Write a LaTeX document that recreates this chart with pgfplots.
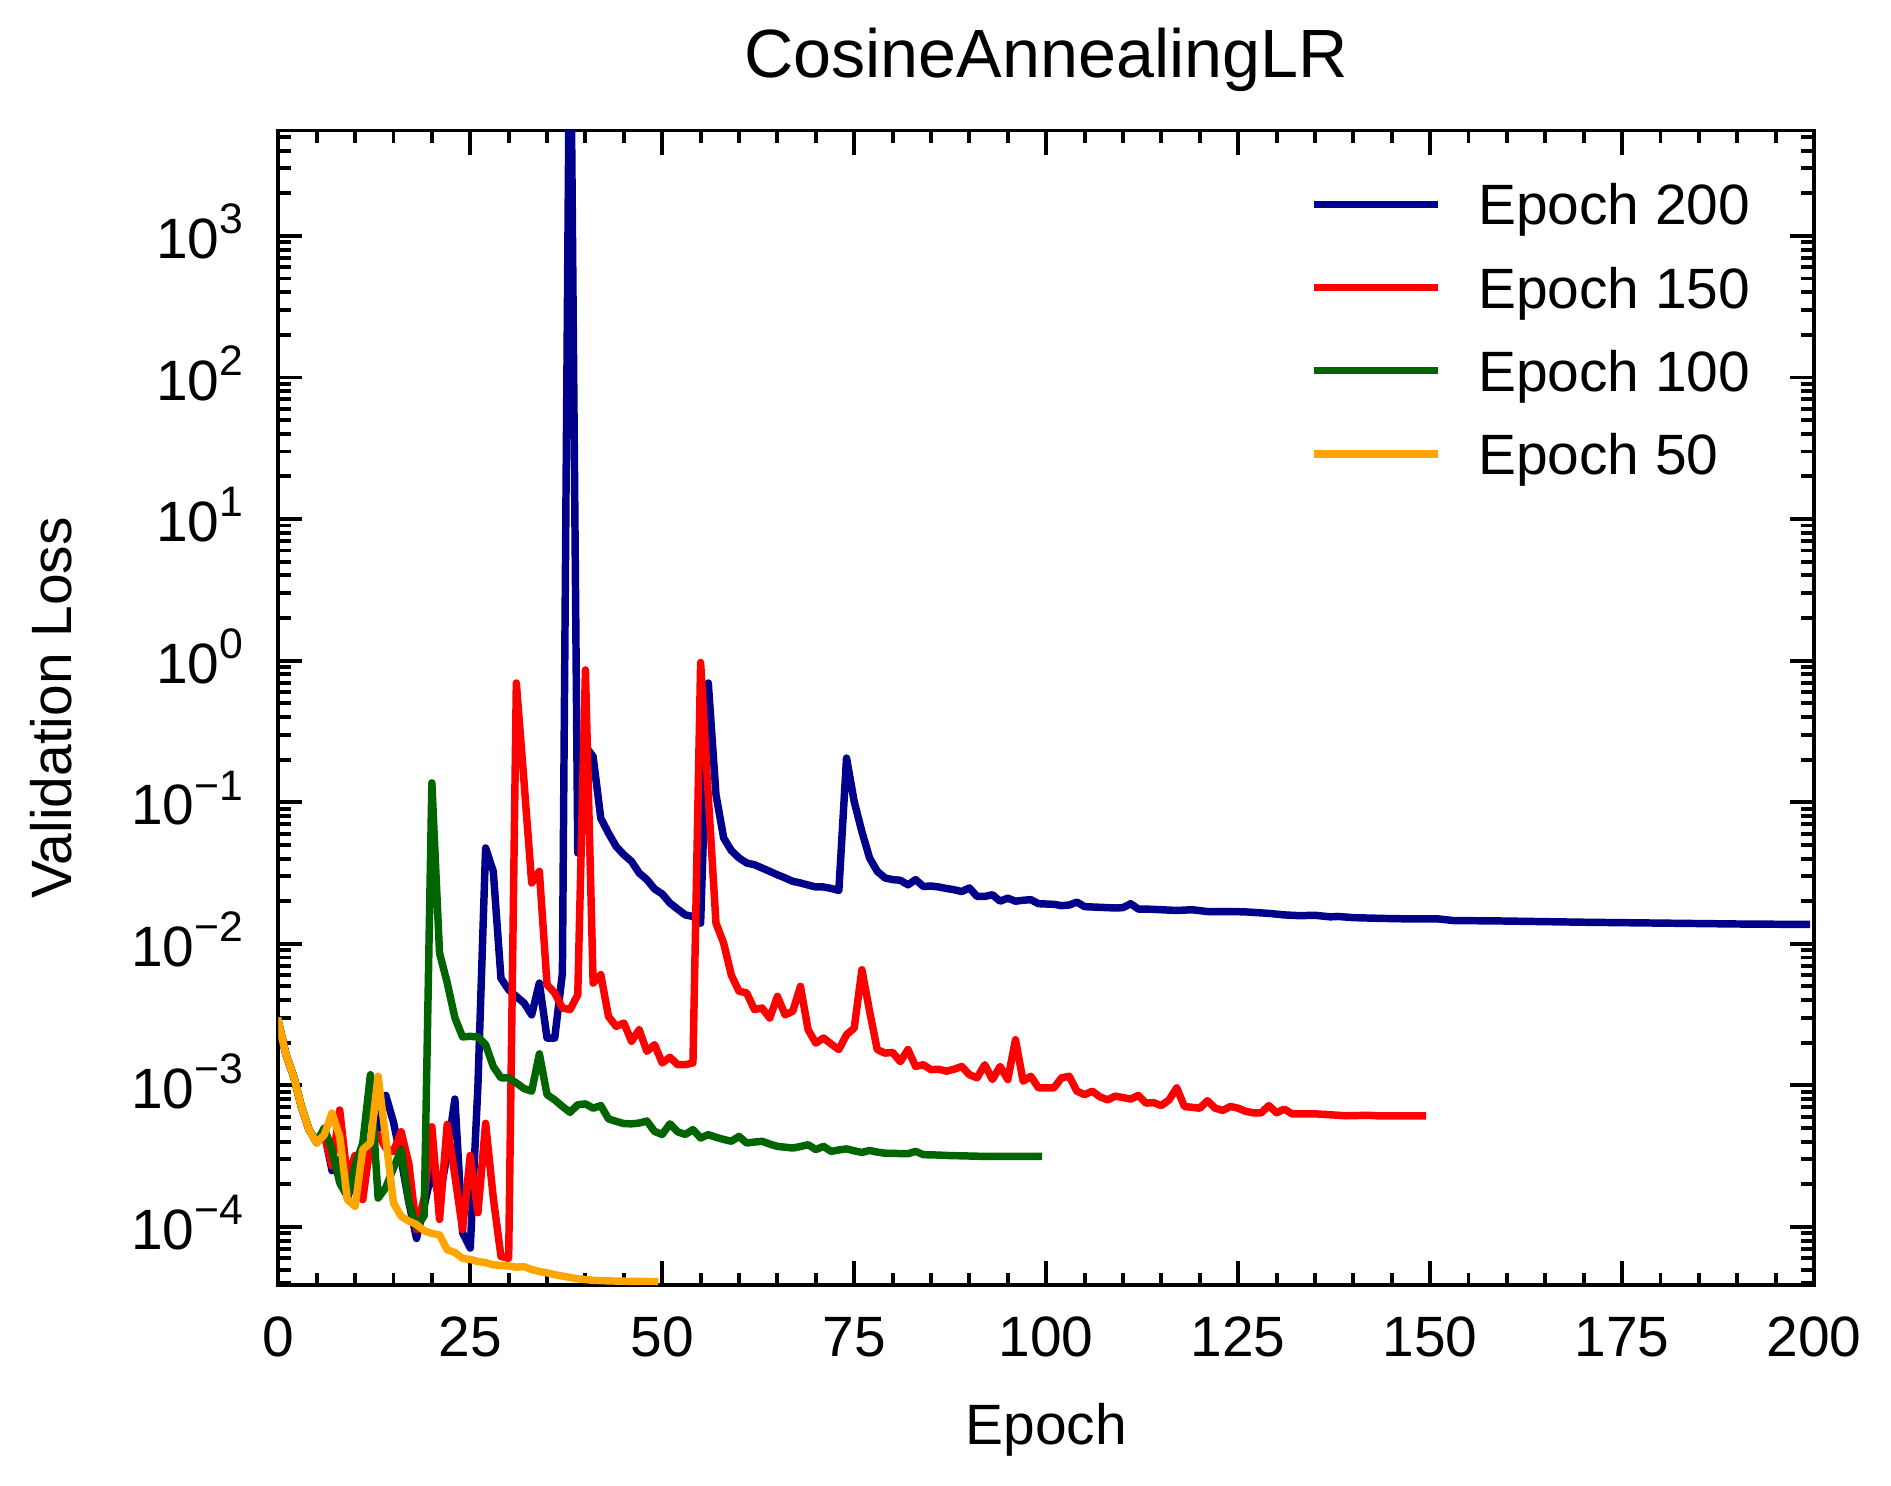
\documentclass[border=0pt]{standalone}
\usepackage{fontspec}
\setmainfont{Liberation Sans}
\usepackage{pgfplots}
\usepackage{pgfplotstable}
\pgfplotsset{compat=1.18}
\definecolor{cblue}{RGB}{0,0,139}
\definecolor{cred}{RGB}{255,0,0}
\definecolor{cgreen}{RGB}{0,100,0}
\definecolor{corange}{RGB}{255,165,0}
\newcommand{\sexp}[1]{\raisebox{3.5pt}{\fontsize{6}{6}\selectfont #1}}

\pgfplotstableread{
e v
0 2.83e-3
1 1.65e-3
2 1.16e-3
3 7.1e-4
4 4.87e-4
5 3.92e-4
6 4.6e-4
7 2.5e-4
8 3.0e-4
9 1.6e-4
10 2.3e-4
11 3.2e-4
12 4.0e-4
13 5.0e-4
14 8.5e-4
15 5.5e-4
16 3.0e-4
17 1.5e-4
18 8.3e-5
19 1.4e-4
20 2.5e-4
21 1.6e-4
22 3.3e-4
23 8.0e-4
24 9.1e-5
25 7.1e-5
26 1.0e-3
27 4.75e-2
28 3.25e-2
29 5.7e-3
30 4.74e-3
31 4.25e-3
32 3.82e-3
33 3.15e-3
34 5.28e-3
35 2.16e-3
36 2.16e-3
37 6.2e-3
38 1e5
39 4.38e-2
40 0.248
41 0.21
42 7.7e-2
43 6.05e-2
44 4.87e-2
45 4.26e-2
46 3.82e-2
47 3.16e-2
48 2.84e-2
49 2.44e-2
50 2.25e-2
51 1.94e-2
52 1.76e-2
53 1.6e-2
54 1.56e-2
55 1.4e-2
56 0.695
57 0.113
58 5.59e-2
59 4.55e-2
60 4.04e-2
61 3.72e-2
62 3.62e-2
63 3.43e-2
64 3.25e-2
65 3.07e-2
66 2.92e-2
67 2.76e-2
68 2.69e-2
69 2.6e-2
70 2.52e-2
71 2.52e-2
72 2.46e-2
73 2.38e-2
74 0.205
75 0.101
76 6.2e-2
77 4.04e-2
78 3.25e-2
79 2.92e-2
80 2.84e-2
81 2.81e-2
82 2.61e-2
83 2.84e-2
84 2.54e-2
85 2.56e-2
86 2.52e-2
87 2.46e-2
88 2.41e-2
89 2.34e-2
90 2.48e-2
91 2.16e-2
92 2.16e-2
93 2.22e-2
94 2.0e-2
95 2.1e-2
96 2.0e-2
97 2.03e-2
98 2.05e-2
99 1.92e-2
100 1.91e-2
101 1.9e-2
102 1.86e-2
103 1.88e-2
104 1.97e-2
105 1.83e-2
106 1.82e-2
107 1.81e-2
108 1.8e-2
109 1.79e-2
110 1.8e-2
111 1.92e-2
112 1.76e-2
113 1.76e-2
114 1.75e-2
115 1.74e-2
117 1.72e-2
119 1.74e-2
121 1.69e-2
124 1.69e-2
126 1.68e-2
129 1.64e-2
131 1.6e-2
133 1.58e-2
135 1.59e-2
137 1.55e-2
138 1.56e-2
140 1.53e-2
144 1.51e-2
147 1.5e-2
151 1.5e-2
153 1.46e-2
159 1.45e-2
170 1.42e-2
180 1.40e-2
190 1.38e-2
199 1.37e-2
}\tblue

\pgfplotstableread{
e v
0 2.83e-3
1 1.65e-3
2 1.16e-3
3 7.1e-4
4 4.87e-4
5 4.0e-4
6 4.5e-4
7 2.7e-4
8 6.7e-4
9 2.2e-4
10 3.2e-4
11 1.56e-4
12 3.9e-4
13 4.5e-4
14 3.6e-4
15 3.4e-4
16 4.7e-4
17 2.8e-4
18 9.6e-5
19 1.6e-4
20 5.1e-4
21 1.13e-4
22 5.3e-4
23 2.3e-4
24 9.6e-5
25 3.2e-4
26 1.26e-4
27 5.4e-4
28 1.6e-4
29 6.2e-5
30 6.0e-5
31 0.695
32 0.14
33 2.69e-2
34 3.25e-2
35 5.14e-3
36 4.5e-3
37 3.52e-3
38 3.43e-3
39 4.37e-3
40 0.86
41 5.28e-3
42 6.05e-3
43 3.07e-3
44 2.61e-3
45 2.76e-3
46 2.05e-3
47 2.47e-3
48 1.74e-3
49 1.94e-3
50 1.44e-3
51 1.58e-3
52 1.4e-3
53 1.4e-3
54 1.44e-3
55 0.97
56 0.11
57 1.4e-2
58 1.01e-2
59 6.0e-3
60 4.62e-3
61 4.5e-3
62 3.43e-3
63 3.52e-3
64 2.99e-3
65 4.25e-3
66 3.15e-3
67 3.34e-3
68 5.0e-3
69 2.47e-3
70 1.99e-3
71 2.16e-3
72 1.96e-3
73 1.79e-3
74 2.28e-3
75 2.54e-3
76 6.56e-3
77 3.34e-3
78 1.79e-3
79 1.69e-3
80 1.71e-3
81 1.47e-3
82 1.79e-3
83 1.36e-3
84 1.4e-3
85 1.29e-3
86 1.3e-3
87 1.26e-3
88 1.3e-3
89 1.36e-3
90 1.19e-3
91 1.13e-3
92 1.4e-3
93 1.1e-3
94 1.36e-3
95 1.1e-3
96 2.1e-3
97 1.07e-3
98 1.16e-3
99 9.6e-4
100 9.6e-4
101 9.6e-4
102 1.13e-3
103 1.16e-3
104 9.1e-4
105 8.6e-4
106 9.1e-4
107 8.3e-4
108 7.9e-4
109 8.4e-4
110 8.2e-4
111 8.0e-4
112 8.5e-4
113 7.5e-4
114 7.55e-4
115 7.2e-4
116 7.9e-4
117 9.6e-4
118 7.1e-4
119 7.0e-4
120 6.9e-4
121 7.8e-4
122 6.9e-4
123 6.66e-4
124 7.1e-4
125 6.9e-4
126 6.55e-4
127 6.4e-4
128 6.4e-4
129 7.2e-4
130 6.4e-4
131 6.8e-4
132 6.3e-4
133 6.3e-4
135 6.3e-4
137 6.2e-4
139 6.1e-4
142 6.15e-4
143 6.1e-4
149 6.1e-4
}\tred

\pgfplotstableread{
e v
0 2.83e-3
1 1.65e-3
2 1.16e-3
3 7.1e-4
4 4.87e-4
5 4.0e-4
6 5.0e-4
7 3.5e-4
8 2.05e-4
9 1.64e-4
10 2.7e-4
11 3.9e-4
12 1.19e-3
13 1.6e-4
14 1.9e-4
15 2.6e-4
16 3.5e-4
17 1.5e-4
18 1.0e-4
19 1.2e-4
20 0.137
21 8.6e-3
22 5.3e-3
23 3.0e-3
24 2.2e-3
25 2.22e-3
26 2.2e-3
27 1.94e-3
28 1.36e-3
29 1.13e-3
30 1.13e-3
31 1.04e-3
32 9.5e-4
33 9.1e-4
34 1.67e-3
35 8.6e-4
36 7.9e-4
37 7.1e-4
38 6.45e-4
39 7.3e-4
40 7.4e-4
41 6.9e-4
42 7.2e-4
43 5.8e-4
44 5.57e-4
45 5.37e-4
46 5.35e-4
47 5.42e-4
48 5.6e-4
49 4.73e-4
50 4.5e-4
51 5.35e-4
52 4.7e-4
53 4.5e-4
54 4.87e-4
55 4.25e-4
56 4.49e-4
57 4.3e-4
58 4.15e-4
59 4.03e-4
60 4.36e-4
61 3.92e-4
62 3.98e-4
63 4.03e-4
64 3.85e-4
65 3.71e-4
66 3.66e-4
67 3.61e-4
68 3.7e-4
69 3.81e-4
70 3.52e-4
71 3.71e-4
72 3.42e-4
73 3.5e-4
74 3.56e-4
75 3.45e-4
76 3.36e-4
77 3.47e-4
78 3.38e-4
79 3.32e-4
80 3.31e-4
81 3.3e-4
82 3.29e-4
83 3.42e-4
84 3.24e-4
85 3.23e-4
86 3.22e-4
87 3.2e-4
88 3.19e-4
90 3.17e-4
92 3.15e-4
99 3.15e-4
}\tgreen

\pgfplotstableread{
e v
0 2.83e-3
1 1.65e-3
2 1.16e-3
3 7.1e-4
4 4.87e-4
5 3.92e-4
6 4.49e-4
7 6.38e-4
8 4.36e-4
9 1.56e-4
10 1.40e-4
11 3.52e-4
12 3.92e-4
13 1.16e-3
14 4.2e-4
15 1.48e-4
16 1.19e-4
17 1.1e-4
18 1.04e-4
19 9.4e-5
20 9.0e-5
21 8.8e-5
22 6.9e-5
23 6.6e-5
24 6.0e-5
25 5.9e-5
26 5.7e-5
27 5.6e-5
28 5.4e-5
29 5.35e-5
30 5.3e-5
31 5.2e-5
32 5.25e-5
33 5.0e-5
34 4.85e-5
35 4.75e-5
36 4.6e-5
37 4.5e-5
38 4.4e-5
39 4.3e-5
40 4.25e-5
41 4.2e-5
42 4.18e-5
43 4.16e-5
44 4.15e-5
45 4.14e-5
46 4.13e-5
47 4.13e-5
48 4.12e-5
49 4.12e-5
}\torange

\begin{document}
\begin{tikzpicture}
\path[use as bounding box] (0,0) rectangle (265.9pt,208.9pt);
\begin{axis}[
  at={(39.13pt,28.16pt)}, anchor=south west,
  width=215.96pt, height=162.39pt, scale only axis,
  ymode=log,
  xmin=0, xmax=200, ymin=3.87e-5, ymax=5.55e3,
  xtick={0,25,50,75,100,125,150,175,200},
  xticklabels={0,25,50,75,100,125,150,175,200},
  minor x tick num=4,
  ytick={1e-4,1e-3,1e-2,1e-1,1,10,100,1000},
  yticklabels={10\sexp{−4},10\sexp{−3},10\sexp{−2},10\sexp{−1},10\sexp{0},10\sexp{1},10\sexp{2},10\sexp{3}},
  minor ytick={4e-5,5e-5,6e-5,7e-5,8e-5,9e-5,
    2e-4,3e-4,4e-4,5e-4,6e-4,7e-4,8e-4,9e-4,
    2e-3,3e-3,4e-3,5e-3,6e-3,7e-3,8e-3,9e-3,
    2e-2,3e-2,4e-2,5e-2,6e-2,7e-2,8e-2,9e-2,
    0.2,0.3,0.4,0.5,0.6,0.7,0.8,0.9,
    2,3,4,5,6,7,8,9,
    20,30,40,50,60,70,80,90,
    200,300,400,500,600,700,800,900,
    2000,3000,4000,5000},
  tick align=inside,
  xtick pos=both, ytick pos=both,
  major tick length=3.4pt, minor tick length=1.8pt,
  every tick/.style={black, line width=0.55pt},
  axis line style={line width=0.55pt},
  tick label style={font=\fontsize{8}{9.6}\selectfont, inner sep=0pt, outer sep=0pt},
  xticklabel style={anchor=base, yshift=-9.98pt},
  yticklabel style={anchor=base east, xshift=-4.92pt, yshift=-3.2pt},
  xlabel={Epoch},
  ylabel={Validation Loss},
  label style={font=\fontsize{8}{9.6}\selectfont, inner sep=0pt, outer sep=0pt},
  xlabel style={at={(axis description cs:0.5,-0.1377)}, anchor=base},
  ylabel style={at={(axis description cs:-0.1346,0.5)}, anchor=base},
  title={CosineAnnealingLR},
  every axis title shift=0pt,
  title style={font=\fontsize{9.6}{11.5}\selectfont, at={(axis description cs:0.5,1.046)}, anchor=base, inner sep=0pt, yshift=0pt},
  legend image code/.code={\draw[#1, line cap=butt] (0pt,2.88pt) -- (17.43pt,2.88pt);},
  legend style={at={(axis description cs:0.6717,0.9553)}, anchor=north west,
    draw=none, fill=none, inner sep=0pt, outer sep=0pt,
    row sep=4.0pt, column sep=5.2pt,
    font=\fontsize{8}{9.6}\selectfont,
    nodes={inner sep=0pt, outer sep=0pt, text height=6pt, text depth=1.7pt},
    cells={anchor=base west}},
  every axis plot/.append style={line width=1.05pt, line join=round, line cap=rect},
]
\addplot[cblue] table[x=e, y=v] {\tblue};
\addlegendentry{Epoch 200}
\addplot[cred] table[x=e, y=v] {\tred};
\addlegendentry{Epoch 150}
\addplot[cgreen] table[x=e, y=v] {\tgreen};
\addlegendentry{Epoch 100}
\addplot[corange] table[x=e, y=v] {\torange};
\addlegendentry{Epoch 50}
\end{axis}
\end{tikzpicture}
\end{document}
